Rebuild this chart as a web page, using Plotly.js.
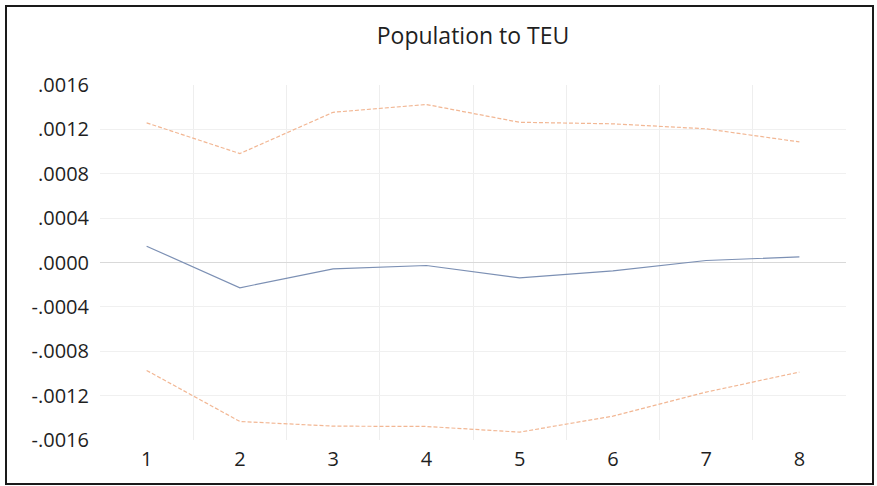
<!DOCTYPE html>
<html>
<head>
<meta charset="utf-8">
<script src="https://cdn.plot.ly/plotly-3.0.1.min.js"></script>
<style>
  html, body { margin: 0; padding: 0; background: #fff; }
  #chart { width: 877px; height: 486px; }
  #frame { position: absolute; left: 5px; top: 5px; width: 869px; height: 480px;
           box-sizing: border-box; border: 2px solid #1a1a1a; pointer-events: none; }
</style>
</head>
<body>
<div id="chart"></div>
<div id="frame"></div>
<script>
// Data
const periods = ["1", "2", "3", "4", "5", "6", "7", "8"];
const response = [0.000147, -0.000228, -0.000057, -0.000027, -0.000138, -0.000075, 0.000018, 0.000051];
const upperBand = [0.001259, 0.000982, 0.001354, 0.001424, 0.001264, 0.001250, 0.001205, 0.001087];
const lowerBand = [-0.000973, -0.001433, -0.001475, -0.001478, -0.001529, -0.001385, -0.001168, -0.000988];
const yTickVals = [0.0016, 0.0012, 0.0008, 0.0004, 0, -0.0004, -0.0008, -0.0012, -0.0016];
const yTickText = [".0016", ".0012", ".0008", ".0004", ".0000", "-.0004", "-.0008", "-.0012", "-.0016"];
const chartTitle = "Population to TEU";

const font = "'Open Sans', 'DejaVu Sans', sans-serif";

const traces = [
  { x: periods, y: upperBand, type: "scatter", mode: "lines",
    line: { color: "#f2b794", width: 1.2, dash: "4px,2px" }, hoverinfo: "y" },
  { x: periods, y: lowerBand, type: "scatter", mode: "lines",
    line: { color: "#f2b794", width: 1.2, dash: "4px,2px" }, hoverinfo: "y" },
  { x: periods, y: response, type: "scatter", mode: "lines",
    line: { color: "#7c90b4", width: 1.2 }, hoverinfo: "y" }
];

const layout = {
  width: 877, height: 486,
  margin: { l: 100, r: 31, t: 85, b: 46, pad: 0 },
  paper_bgcolor: "#ffffff", plot_bgcolor: "#ffffff",
  showlegend: false,
  title: { text: chartTitle, x: 0.5, xref: "paper", xanchor: "center",
           y: 1 - 36 / 486, yref: "container", yanchor: "middle",
           font: { family: font, size: 23, color: "#1f1f1f" } },
  xaxis: {
    type: "category", tickson: "boundaries",
    showgrid: true, gridcolor: "#eeeeee", gridwidth: 1,
    showline: false, zeroline: false, ticks: "", ticklen: 0,
    ticklabelstandoff: 5,
    tickfont: { family: font, size: 20, color: "#1f1f1f" },
    range: [-0.5, 7.5], fixedrange: true
  },
  yaxis: {
    range: [-0.0016, 0.0016],
    tickvals: yTickVals, ticktext: yTickText,
    showgrid: true, gridcolor: "#f0f0f0", gridwidth: 1,
    zeroline: true, zerolinecolor: "#d9d9d9", zerolinewidth: 1.5,
    showline: false, ticks: "", ticklabelstandoff: 10,
    tickfont: { family: font, size: 20, color: "#1f1f1f" },
    fixedrange: true
  }
};

Plotly.newPlot("chart", traces, layout, { displayModeBar: false, staticPlot: true });
</script>
</body>
</html>
